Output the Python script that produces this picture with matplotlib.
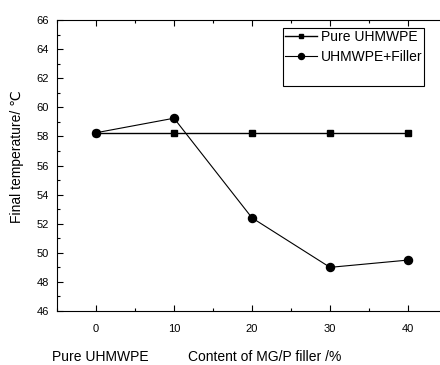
import matplotlib
matplotlib.use("Agg")
import matplotlib.pyplot as plt
from matplotlib.ticker import MultipleLocator
from matplotlib.patches import Rectangle

plt.rcParams['font.family'] = ['Liberation Sans', 'DejaVu Sans']

content = [0, 10, 20, 30, 40]
pure = [58.25, 58.25, 58.25, 58.25, 58.25]
filler = [58.25, 59.25, 52.4, 49.0, 49.5]
xticklabels = ['0', '10', '20', '30', '40']

W, H = 440, 365
fig = plt.figure(figsize=(4.4, 3.65), dpi=100)
ax = fig.add_axes([57/W, 1 - 311/H, (447-57)/W, (311-20)/H])

ax.plot(content, pure, color='black', marker='s', markersize=4.8, lw=1.0, label='Pure UHMWPE')
ax.plot(content, filler, color='black', marker='o', markersize=5.8, lw=0.8, label='UHMWPE+Filler')

ax.set_xlim(-5, 45)
ax.set_ylim(46, 66)
ax.set_xticks(content)
ax.set_xticklabels(xticklabels)
ax.xaxis.set_minor_locator(MultipleLocator(5))
ax.yaxis.set_major_locator(MultipleLocator(2))
ax.yaxis.set_minor_locator(MultipleLocator(1))
ax.tick_params(which='both', direction='in', top=True, right=False, labelsize=8)
ax.tick_params(which='major', length=4, width=0.8)
ax.tick_params(which='minor', length=2.5, width=0.8)
ax.tick_params(axis='x', pad=9)
ax.tick_params(axis='y', pad=6)
ax.spines['right'].set_visible(False)

fig.text(17/W, 1 - 157/H, 'Final temperature/ ℃', rotation=90, ha='center', va='center', fontsize=10)
fig.text(265/W, 1 - 361/H, 'Content of MG/P filler /%', ha='center', va='baseline', fontsize=10)
fig.text(100/W, 1 - 361/H, 'Pure UHMWPE', ha='center', va='baseline', fontsize=10)

leg = ax.legend(loc='upper left', bbox_to_anchor=(285/W, 1 - 30/H), bbox_transform=fig.transFigure,
                fontsize=10, frameon=False, handlelength=2.3, markerscale=0.75,
                borderpad=0, labelspacing=0.42, handletextpad=0.3, borderaxespad=0)
fig.patches.append(Rectangle((283/W, 1 - 86/H), (424-283)/W, (86-28)/H,
                             transform=fig.transFigure, fill=False, edgecolor='black', lw=0.8))

fig.savefig('out.png', dpi=100)
